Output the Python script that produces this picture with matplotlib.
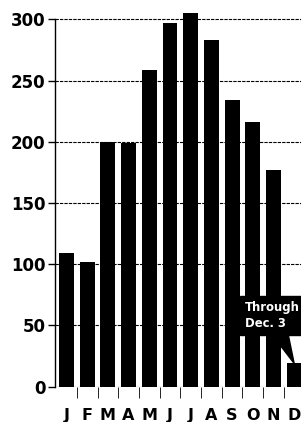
import matplotlib.pyplot as plt
import numpy as np

# meses y valores
months = ['J', 'F', 'M', 'A', 'M', 'J', 'J', 'A', 'S', 'O', 'N', 'D']
values = [109, 102, 200, 199, 259, 297, 305, 283, 234, 216, 177, 19]
yticks = [0, 50, 100, 150, 200, 250, 300]
note = 'Through\nDec. 3'

fig = plt.figure(figsize=(3.01, 4.22), dpi=100)
ax = fig.add_axes([0.1827, 0.0836, 0.8173, 0.8996])

x = np.arange(len(months))

# lineas de grilla punteadas, detras de las barras
for v in yticks:
    ax.axhline(v, color='black', lw=0.8, ls=(0, (3, 1)), zorder=1)

ax.bar(x, values, width=0.72, color='black', zorder=2)

ax.set_xlim(-0.556, 11.33)
ax.set_ylim(0, 310)

for s in ['top', 'right', 'bottom']:
    ax.spines[s].set_visible(False)
ax.spines['left'].set_bounds(0, 300)
ax.spines['left'].set_linewidth(1.0)

ax.set_yticks(yticks)
ax.set_yticklabels([str(v) for v in yticks], fontsize=12, fontweight='bold')
ax.tick_params(axis='y', length=5, width=1, pad=2)

ax.set_xticks(x)
ax.set_xticklabels(months, fontsize=11.5, fontweight='bold')
ax.set_xticks(x[:-1] + 0.5, minor=True)
ax.tick_params(axis='x', which='major', length=0, pad=15)
ax.tick_params(axis='x', which='minor', length=8, width=0.6, direction='out')

ax.annotate(note, xy=(11, values[-1]), xytext=(8.62, 58),
            ha='left', va='center', color='white', fontsize=8.4,
            fontweight='bold', linespacing=1.25,
            bbox=dict(boxstyle='square,pad=0.45', fc='black', ec='black'),
            arrowprops=dict(arrowstyle='wedge,tail_width=1.2', fc='black', ec='black',
                            shrinkA=0, shrinkB=0),
            annotation_clip=False, zorder=5)

fig.savefig('out.png', dpi=100)
